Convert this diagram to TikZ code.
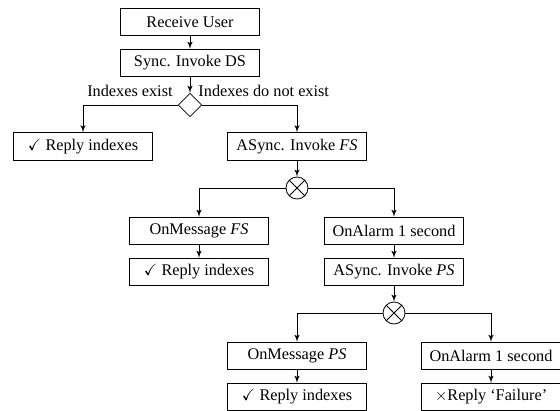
\documentclass[tikz,border=0pt]{standalone}
\usepackage{amssymb}
\usepackage{fontspec}
\setmainfont{Liberation Serif}
\usepackage{tikz}
\usetikzlibrary{shapes,arrows}

\begin{document}
\begin{tikzpicture}[x=0.615pt,y=-0.615pt,
    block_step/.style ={rectangle, draw=black, fill=white, line width=0.5pt,
      text centered, minimum width=85.5pt, minimum height=17pt, inner sep=2pt},
    decision/.style ={diamond, draw=black, fill=white, line width=0.5pt,
      minimum width=14.5pt, minimum height=14.5pt, inner sep=0pt},
    fork/.style ={circle, draw=black, fill=white, line width=0.5pt,
      minimum size=13.5pt, inner sep=0pt,
      path picture={\draw[line width=0.5pt]
        (path picture bounding box.north west) -- (path picture bounding box.south east)
        (path picture bounding box.north east) -- (path picture bounding box.south west);}},
    block_label/.style ={rectangle, draw=none, fill=none, inner sep=0pt},
      line/.style ={draw, line width=0.5pt, -latex'}]
    \useasboundingbox (0,0) rectangle (560,411);
    % the blocks of the flowchart
    \node [block_step] (receive_user) at (190,22) {Receive User};
    \node [block_step] (invoke_ds) at (190,63) {Sync. Invoke DS};
    \node [decision] (indexes) at (190,105) {};
    \node [block_label, anchor=south east] (lbl_exist) at ([xshift=-3pt,yshift=4.8pt]indexes.west) {Indexes exist};
    \node [block_label, anchor=south west] (lbl_missing) at ([xshift=-2.5pt,yshift=4.8pt]indexes.east) {Indexes do not exist};
    \node [block_step] (reply_ds) at (83,146.5) {$\checkmark$ Reply indexes};
    \node [block_step] (invoke_fs) at (297,146.5) {ASync. Invoke \textit{FS}};
    \node [fork] (fork_fs) at (297,188) {};
    \node [block_step] (message_fs) at (199,231) {OnMessage \textit{FS}};
    \node [block_step] (reply_fs) at (199,272) {$\checkmark$ Reply indexes};
    \node [block_step] (alarm_fs) at (394,231) {OnAlarm 1 second};
    \node [block_step] (invoke_ps) at (394,272) {ASync. Invoke \textit{PS}};
    \node [fork] (fork_ps) at (394,313) {};
    \node [block_step] (message_ps) at (297,356) {OnMessage \textit{PS}};
    \node [block_step] (reply_ps) at (297,397) {$\checkmark$ Reply indexes};
    \node [block_step] (alarm_ps) at (491,356) {OnAlarm 1 second};
    \node [block_step] (failure) at (491,397) {$\times$Reply `Failure'};
    % connecting nodes with paths
    \begin{scope}[every path/.style=line]
      \path (receive_user) -- (invoke_ds);
      \path (invoke_ds)    -- (indexes);
      \path (indexes.west) -| (reply_ds);
      \path (indexes.east) -| (invoke_fs);
      \path (invoke_fs)    -- (fork_fs);
      \path (fork_fs.west) -| (message_fs);
      \path (fork_fs.east) -| (alarm_fs);
      \path (message_fs)   -- (reply_fs);
      \path (alarm_fs)     -- (invoke_ps);
      \path (invoke_ps)    -- (fork_ps);
      \path (fork_ps.west) -| (message_ps);
      \path (fork_ps.east) -| (alarm_ps);
      \path (message_ps)   -- (reply_ps);
      \path (alarm_ps)     -- (failure);
    \end{scope}
\end{tikzpicture}
\end{document}
